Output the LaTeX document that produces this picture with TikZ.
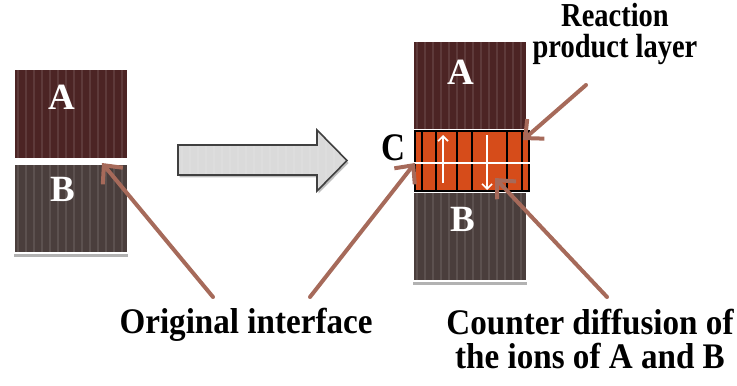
\documentclass[tikz,border=0pt]{standalone}
\usepackage{fontspec}
\setmainfont{Liberation Serif}
\newfontfamily\tagfont[FakeStretch=0.85]{Liberation Serif}
\newfontfamily\capfont[FakeStretch=0.92]{Liberation Serif}
\usetikzlibrary{arrows.meta,shadows}

\definecolor{phaseA}{RGB}{76,36,36}
\definecolor{phaseB}{RGB}{74,62,60}
\definecolor{product}{RGB}{214,76,26}
\definecolor{pointer}{RGB}{166,106,90}
\definecolor{bigarrow}{RGB}{218,218,218}

\begin{document}
\begin{tikzpicture}[x=0.5pt, y=-0.5pt,
    stripes/.style={path picture={
        \foreach \k in {0,...,22}
          \draw[white, opacity=0.10, line width=1.2pt]
            ([xshift=\k*4pt+2pt]path picture bounding box.north west) --
            ([xshift=\k*4pt+2pt]path picture bounding box.south west);}},
    block/.style={draw=white, line width=1pt, inner sep=0pt, outer sep=0pt,
        minimum width=57pt, stripes},
    shade below/.style={drop shadow={shadow xshift=0pt, shadow yshift=-2.2pt,
        fill=black!55, opacity=0.55}},
    letter/.style={text=white, inner sep=0pt, font=\bfseries\fontsize{18.5}{22}\selectfont},
    caption/.style={anchor=base, align=center, inner sep=0pt,
        font=\capfont\bfseries\fontsize{18}{17}\selectfont},
    pointer/.style={draw=pointer, line width=2pt, line cap=round,
        -{Straight Barb[length=7pt, width=13pt, line width=2pt]}},
    flux/.style={draw=white, line width=0.8pt,
        -{Straight Barb[length=2.5pt, width=5pt, line width=0.8pt]}}
]
\useasboundingbox (0,0) rectangle (737,385);

% before: A on top of B
\node[block, fill=phaseA, minimum height=45pt] (a0) at (71,114) {};
\node[block, fill=phaseB, minimum height=44.5pt, shade below] (b0) at (71,208.5) {};
\node[letter] (la0) at (62,97) {A};
\node[letter] (lb0) at (63,189) {B};

% big grey arrow
\draw[draw=black!75, line width=0.8pt, fill=bigarrow, stripes,
      drop shadow={shadow xshift=0.8pt, shadow yshift=-1.2pt, fill=black!50, opacity=0.5}]
  (178,145) -- (317,145) -- (317,130) -- (347,160.5) -- (317,191)
  -- (317,175) -- (178,175) -- cycle;

% after: A / product layer / B
\node[block, fill=phaseA, minimum height=44.5pt] (a1) at (470,85.5) {};
\node[block, fill=phaseB, minimum height=44.5pt, shade below] (b1) at (470,236.5) {};
\node[draw=black, line width=0.8pt, fill=product, inner sep=0pt, outer sep=0pt,
      minimum width=57pt, minimum height=30pt] (c1) at (472,161) {};
\foreach \x in {422,436,457,472,507,522}
  \draw[black, line width=0.8pt] (\x,131) -- (\x,191);
\draw[white, line width=0.8pt] (413,163) -- (530,163);
\coordinate (up0) at (443,183);
\coordinate (up1) at (443,135);
\coordinate (dn0) at (487,135);
\coordinate (dn1) at (487,190);
\draw[flux] (up0) -- (up1);
\draw[flux] (dn0) -- (dn1);
\node[letter] (la1) at (461,72) {A};
\node[letter] (lb1) at (463,219) {B};
\node[letter, text=black, font=\tagfont\bfseries\fontsize{19.5}{22}\selectfont] (lc1) at (393,148) {C};

% labels
\node[caption] (orig) at (246,333) {Original interface};
\node[caption] (diff) at (590,368) {Counter diffusion of\\the ions of A and B};
\node[caption, font=\tagfont\bfseries\fontsize{16.75}{15.5}\selectfont] (rpl) at (615,58)
  {Reaction\\product layer};

% pointers
\coordinate (o1) at (213,297);
\coordinate (o2) at (310,297);
\coordinate (iface0) at (102,163);
\coordinate (iface1) at (415,163);
\coordinate (r1) at (586,85);
\coordinate (rtip) at (523,140);
\coordinate (d1) at (607,297);
\coordinate (dtip) at (495,178);
\draw[pointer] (o1) -- (iface0);
\draw[pointer] (o2) -- (iface1);
\draw[pointer] (r1) -- (rtip);
\draw[pointer] (d1) -- (dtip);

\end{tikzpicture}
\end{document}
